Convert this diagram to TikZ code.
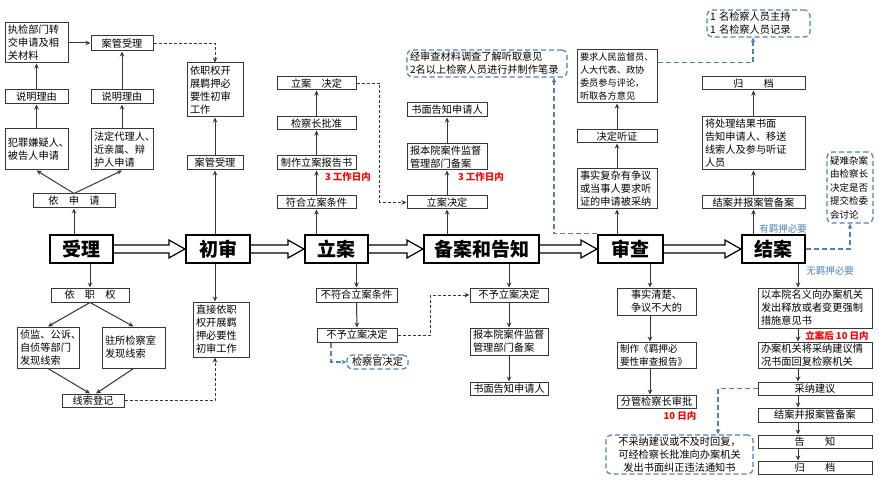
\documentclass[tikz,border=0pt]{standalone}
\usepackage{fontspec}
\setmainfont{Noto Sans CJK SC}
\usetikzlibrary{arrows.meta,calc}
\definecolor{bl}{RGB}{79,129,189}
\definecolor{ln}{RGB}{55,55,55}
\tikzset{
 box/.style={draw=ln, line width=1pt, fill=white, inner xsep=2pt, inner ysep=0pt, font=\fontsize{10.2}{13}\selectfont, align=left},
 cbox/.style={box, align=center},
 mainbox/.style={draw=black, line width=2.2pt, fill=white, inner sep=0pt, font=\fontsize{19}{22}\selectfont\bfseries, align=center},
 arr/.style={draw=ln, line width=1pt, -{Stealth[length=5pt,width=4.5pt]}},
 dsh/.style={draw=ln, line width=0.9pt, dash pattern=on 3pt off 2pt, -{Stealth[length=5pt,width=4.5pt]}},
 bdsh/.style={draw=bl, line width=1.2pt, dash pattern=on 5pt off 3pt, -{Stealth[length=5pt,width=4.5pt]}},
 note/.style={draw=bl, line width=1.2pt, dash pattern=on 5pt off 3pt, rounded corners=5pt, inner xsep=3pt, inner ysep=0pt, font=\fontsize{10.2}{13}\selectfont, align=left},
 dbl/.style={draw=black, line width=1.2pt, fill=white, line join=miter},
 redt/.style={text=red, inner sep=0pt, font=\fontsize{9.5}{11}\selectfont\bfseries},
 bluet/.style={text=bl, inner sep=0pt, font=\fontsize{9.5}{11}\selectfont},
}
\newcommand\bx[7][box]{%
 \pgfmathsetmacro\Bw{#5-#3}\pgfmathsetmacro\Bh{#6-#4}%
 \pgfmathsetmacro\Bx{(#3+#5)/2}\pgfmathsetmacro\By{(#4+#6)/2}%
 \pgfmathsetmacro\Bt{#5-#3-6}%
 \node[#1, minimum width=\Bw pt, minimum height=\Bh pt, text width=\Bt pt] (#2) at (\Bx,\By) {#7};}
\newcommand\darr[2]{\draw[dbl] ($(#1.east)+(0,-4)$) -- ($(#2.west)+(-16,-4)$) -- ($(#2.west)+(-16,-9)$) -- (#2.west) -- ($(#2.west)+(-16,9)$) -- ($(#2.west)+(-16,4)$) -- ($(#1.east)+(0,4)$);}
\begin{document}
\begin{tikzpicture}[x=1pt,y=-1pt]
\useasboundingbox[fill=white] (0,0) rectangle (879,484);
% main row
\bx[mainbox]{sl}{50}{235}{113}{263}{受理}
\bx[mainbox]{cs}{186}{235}{250}{263}{初审}
\bx[mainbox]{la}{305}{235}{368}{263}{立案}
\bx[mainbox]{ba}{424}{235}{539}{263}{备案和告知}
\bx[mainbox]{sc}{598}{235}{663}{263}{审查}
\bx[mainbox]{ja}{742}{235}{805}{263}{结案}
\darr{sl}{cs}\darr{cs}{la}\darr{la}{ba}\darr{ba}{sc}\darr{sc}{ja}
% top left
\bx{zx}{5}{23}{68}{63}{执检部门转\\交申请及相\\关材料}
\bx[cbox]{ag1}{91}{36}{153}{51}{案管受理}
\bx[cbox]{sm1}{5}{90}{68}{104}{说明理由}
\bx[cbox]{sm2}{91}{90}{153}{104}{说明理由}
\bx{fz}{5}{129}{68}{170}{犯罪嫌疑人、\\被告人申请}
\bx{fd}{91}{129}{153}{170}{法定代理人、\\近亲属、辩\\护人申请}
\bx[cbox]{ysq}{33}{194}{115}{208}{依　申　请}
\draw[arr] (sl.north -| ysq.south) -- (ysq.south);
\draw[arr] (ysq.north) -- (fz.south);
\draw[arr] (ysq.north) -- (fd.south);
\draw[arr] (fz.north) -- (sm1.south);
\draw[arr] (sm1.north) -- (zx.south);
\draw[arr] (fd.north) -- (sm2.south);
\draw[arr] (sm2.north) -- (ag1.south);
\draw[arr] (zx.east) -- (zx.east -| ag1.west);
% bottom left
\bx[cbox]{yzq}{51}{288}{129}{302}{依　职　权}
\bx{zjbm}{17}{327}{79}{368}{侦监、公诉、\\自侦等部门\\发现线索}
\bx{zsjc}{102}{327}{165}{368}{驻所检察室\\发现线索}
\bx[cbox]{xsdj}{62}{394}{124}{407}{线索登记}
\draw[arr] (sl.south -| yzq.north) -- (yzq.north);
\draw[arr] (yzq.south) -- (zjbm.north);
\draw[arr] (yzq.south) -- (zsjc.north);
\draw[arr] (zjbm.south) -- ($(xsdj.north)+(-3,0)$);
\draw[arr] (zsjc.south) -- ($(xsdj.north)+(3,0)$);
% chushen
\coordinate (cx) at (215,0);
\bx{yzkz}{187}{63}{243}{117}{依职权开\\展羁押必\\要性初审\\工作}
\bx[cbox]{ag2}{187}{156}{243}{170}{案管受理}
\bx{zjyz}{193}{302}{249}{357}{直接依职\\权开展羁\\押必要性\\初审工作}
\draw[arr] (cs.north -| ag2.south) -- (ag2.south);
\draw[arr] (ag2.north) -- (yzkz.south);
\draw[dsh] (ag1.east) -| (yzkz.north);
\draw[arr] (cs.south -| cx) -- (zjyz.north -| cx);
\draw[dsh] (xsdj.east) -| (zjyz.south -| cx);
% li an
\bx[cbox]{lajd1}{277}{77}{356}{90}{立案　决定}
\bx[cbox]{jczpz}{277}{117}{356}{130}{检察长批准}
\bx[cbox]{zzla}{277}{156}{356}{170}{制作立案报告书}
\bx[cbox]{fhla}{277}{196}{356}{209}{符合立案条件}
\node[redt] (r1) at (348,177) {3 工作日内};
\draw[arr] (la.north -| fhla.south) -- (fhla.south);
\draw[arr] (fhla.north) -- (zzla.south);
\draw[arr] (zzla.north) -- (jczpz.south);
\draw[arr] (jczpz.north) -- (lajd1.south);
\bx[cbox]{bfh}{316}{288}{397}{302}{不符合立案条件}
\bx[cbox]{byl1}{317}{328}{397}{342}{不予立案决定}
\bx[note,align=center]{jcg}{347}{355}{408}{369}{检察官决定}
\draw[arr] (la.south -| bfh.north) -- (bfh.north);
\draw[arr] (bfh.south) -- (byl1.north);
\coordinate (jcx) at (331,0);
\draw[bdsh] (byl1.south -| jcx) |- (jcg.west);
% bei an
\bx[cbox]{lajd2}{407}{196}{487}{209}{立案决定}
\bx{bby1}{407}{144}{487}{170}{报本院案件监督\\管理部门备案}
\bx[cbox]{smgz1}{407}{103}{487}{117}{书面告知申请人}
\node[redt] (r2) at (481,177) {3 工作日内};
\bx[note]{n1}{407}{50}{567}{77}{经审查材料调查了解听取意见\\2名以上检察人员进行并制作笔录}
\draw[arr] (ba.north -| lajd2.south) -- (lajd2.south);
\draw[arr] (lajd2.north) -- (bby1.south);
\draw[arr] (bby1.north) -- (smgz1.south);
\draw[dsh] (lajd1.east) -- ++(23,0) |- (lajd2.west);
\bx[cbox]{byl2}{470}{288}{548}{302}{不予立案决定}
\bx{bby2}{470}{328}{548}{355}{报本院案件监督\\管理部门备案}
\bx[cbox]{smgz2}{470}{382}{548}{395}{书面告知申请人}
\draw[arr] (ba.south -| byl2.north) -- (byl2.north);
\draw[arr] (byl2.south) -- (bby2.north);
\draw[arr] (bby2.south) -- (smgz2.north);
\draw[dsh] (byl1.east) -- ++(33,0) |- (byl2.west);
% shen cha
\bx{sfz}{577}{169}{657}{209}{事实复杂有争议\\或当事人要求听\\证的申请被采纳}
\bx[cbox]{jdtz}{577}{130}{657}{143}{决定听证}
\bx[box,font=\fontsize{9.2}{13}\selectfont]{yqrm}{577}{50}{657}{103}{要求人民监督员、\\人大代表、政协\\委员参与评论，\\听取各方意见}
\draw[arr] (sc.north -| sfz.south) -- (sfz.south);
\draw[arr] (sfz.north) -- (jdtz.south);
\draw[arr] (jdtz.north) -- (yqrm.south);
\coordinate (bxa) at (554,0);
\draw[bdsh] (sc.north west) -| (n1.south -| bxa);
\coordinate (scx) at (650,0);
\bx[cbox]{sqqc}{617}{288}{696}{315}{事实清楚、\\争议不大的}
\bx[box,font=\fontsize{9.6}{13}\selectfont]{zzbg}{617}{342}{696}{368}{制作《羁押必\\要性审查报告》}
\bx[cbox]{fgjc}{617}{395}{696}{408}{分管检察长审批}
\node[redt] (r3) at (680,416) {10 日内};
\draw[arr] (sc.south -| scx) -- (sqqc.north -| scx);
\draw[arr] (sqqc.south -| scx) -- (zzbg.north -| scx);
\draw[arr] (zzbg.south -| scx) -- (fgjc.north -| scx);
% jie an
\bx[cbox]{jab1}{702}{196}{805}{209}{结案并报案管备案}
\bx{jcl}{702}{117}{805}{170}{将处理结果书面\\告知申请人、移送\\线索人及参与听证\\人员}
\bx[cbox]{gd1}{702}{77}{805}{90}{归　　档}
\bx[note]{n2}{707}{10}{810}{37}{1 名检察人员主持\\1 名检察人员记录}
\bx[note,font=\fontsize{9.5}{13.5}\selectfont]{n3}{827}{152}{873}{223}{疑难杂案\\由检察长\\决定是否\\提交检委\\会讨论}
\node[bluet] (t1) at (783,229) {有羁押必要};
\draw[arr] (ja.north -| jab1.south) -- (jab1.south);
\draw[arr] (jab1.north) -- (jcl.south);
\draw[arr] (jcl.north) -- (gd1.south);
\coordinate (n2x) at (753,0);
\draw[bdsh] ($(yqrm.north east)+(0,13)$) -| (n2.south -| n2x);
\draw[bdsh] (ja.east) -| (n3.south);
\node[bluet] (t2) at (830,271) {无羁押必要};
\coordinate (jx) at (798,0);
\bx{ybym}{758}{288}{872}{328}{以本院名义向办案机关\\发出释放或者变更强制\\措施意见书}
\node[redt] (r4) at (837,336) {立案后 10 日内};
\bx{bajg}{758}{342}{872}{368}{办案机关将采纳建议情\\况书面回复检察机关}
\bx[cbox]{cnjy}{758}{382}{872}{395}{采纳建议}
\bx[cbox]{jab2}{758}{408}{872}{422}{结案并报案管备案}
\bx[cbox]{gz}{758}{435}{872}{448}{告　　知}
\bx[cbox]{gd2}{758}{461}{872}{474}{归　　档}
\bx[note,align=center]{n4}{606}{435}{753}{474}{不采纳建议或不及时回复，\\可经检察长批准向办案机关\\发出书面纠正违法通知书}
\draw[arr] (ja.south -| jx) -- (ybym.north -| jx);
\draw[arr] (ybym.south -| jx) -- (bajg.north -| jx);
\draw[arr] (bajg.south -| jx) -- (cnjy.north -| jx);
\draw[arr] (cnjy.south -| jx) -- (jab2.north -| jx);
\draw[arr] (jab2.south -| jx) -- (gz.north -| jx);
\draw[arr] (gz.south -| jx) -- (gd2.north -| jx);
\coordinate (n4x) at (718,0);
\draw[bdsh] (cnjy.west) -| (n4.north -| n4x);
\end{tikzpicture}
\end{document}
